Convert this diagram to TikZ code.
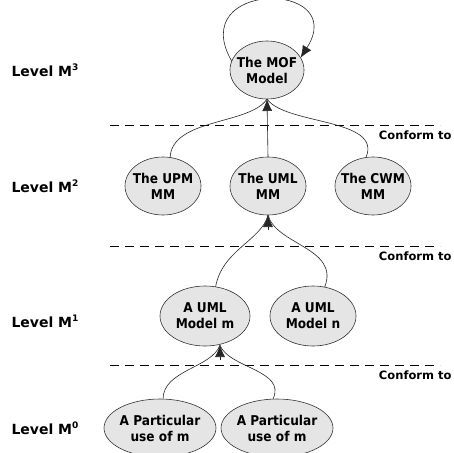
\documentclass[tikz,border=0pt]{standalone}
\usepackage{fontspec}
\setmainfont{DejaVu Sans}
\newfontfamily\capfont{DejaVu Sans Condensed}
\usetikzlibrary{arrows.meta,shapes.geometric}
\begin{document}
\begin{tikzpicture}[x=1pt,y=-1pt,
  model/.style 2 args={ellipse,draw=black!80,line width=0.6pt,fill=black!10,
    minimum width=#1,minimum height=#2,inner sep=0pt,outer sep=0pt},
  caption/.style={align=center,inner sep=0pt,
    font=\capfont\fontsize{13.5}{16}\selectfont\bfseries},
  levellbl/.style={anchor=west,font=\fontsize{14}{17}\selectfont\bfseries},
  conformlbl/.style={anchor=east,font=\fontsize{11.5}{13}\selectfont\bfseries},
  sepline/.style={dashed,dash pattern=on 9pt off 6pt,line width=0.6pt},
  link/.style={line width=0.6pt,black!85},
  tip/.style={-{Latex[length=12pt,width=10pt]}}
]
\useasboundingbox (0,0) rectangle (454,452);

% meta-levels (with small raised level numbers)
\newcommand{\lvl}[1]{Level M\raisebox{0.45em}{\fontsize{9}{9}\selectfont #1}}
\node[levellbl] (l3) at (8,70)  {\lvl{3}};
\node[levellbl] (l2) at (8,186) {\lvl{2}};
\node[levellbl] (l1) at (8,321) {\lvl{1}};
\node[levellbl] (l0) at (8,428) {\lvl{0}};

% level separators
\coordinate (s3a) at (110,125); \coordinate (s3b) at (440,125);
\coordinate (s2a) at (110,246); \coordinate (s2b) at (440,246);
\coordinate (s1a) at (110,365); \coordinate (s1b) at (440,365);
\draw[sepline] (s3a) -- (s3b);
\draw[sepline] (s2a) -- (s2b);
\draw[sepline] (s1a) -- (s1b);
\node[conformlbl] (c3) at (455,135) {Conform to};
\node[conformlbl] (c2) at (455,256) {Conform to};
\node[conformlbl] (c1) at (455,375) {Conform to};

% models: fixed-size ellipses, captions centred on them
\node[model={74pt}{58pt}] (mof) at (267,70) {};
\node[caption] (tmof) at (mof) {The MOF\\Model};
\node[model={76pt}{58pt}] (upm) at (163,186) {};
\node[caption] (tupm) at (upm) {The UPM\\MM};
\node[model={76pt}{58pt}] (uml) at (268,186) {};
\node[caption] (tuml) at (uml) {The UML\\MM};
\node[model={76pt}{58pt}] (cwm) at (373,186) {};
\node[caption] (tcwm) at (cwm) {The CWM\\MM};
\node[model={90pt}{60pt}] (mm) at (205,316) {};
\node[caption] (tmm) at (mm) {A UML\\Model m};
\node[model={86pt}{60pt}] (mn) at (313,316) {};
\node[caption] (tmn) at (mn) {A UML\\Model n};
\node[model={112pt}{58pt}] (u1) at (160,428) {};
\node[caption] (tu1) at (u1) {A Particular\\use of m};
\node[model={112pt}{58pt}] (u2) at (277,428) {};
\node[caption] (tu2) at (u2) {A Particular\\use of m};

% MOF conforms to itself
\draw[link,tip] (mof.166) .. controls (185,-20) and (350,-20) .. (mof.20);

% M2 -> M3
\draw[link] (upm.76) .. controls (172,118) and (250,125) .. (mof.south);
\draw[link] (cwm.104) .. controls (383,118) and (285,125) .. (mof.south);
\draw[link,tip] (uml.north) -- (mof.south);

% M1 -> M2
\coordinate (umlin) at (268,215);
\draw[link] (mm.70) .. controls (222,250) and (262,240) .. (umlin);
\draw[link] (mn.68) .. controls (340,248) and (276,245) .. (umlin);
\draw[link,tip] (268,230) -- (umlin);

% M0 -> M1
\coordinate (mmin) at (220,345);
\draw[link] (u1.84) .. controls (163,370) and (212,368) .. (mmin);
\draw[link] (u2.98) .. controls (287,370) and (228,368) .. (mmin);
\draw[link,tip] (220,360) -- (mmin);
\end{tikzpicture}
\end{document}
